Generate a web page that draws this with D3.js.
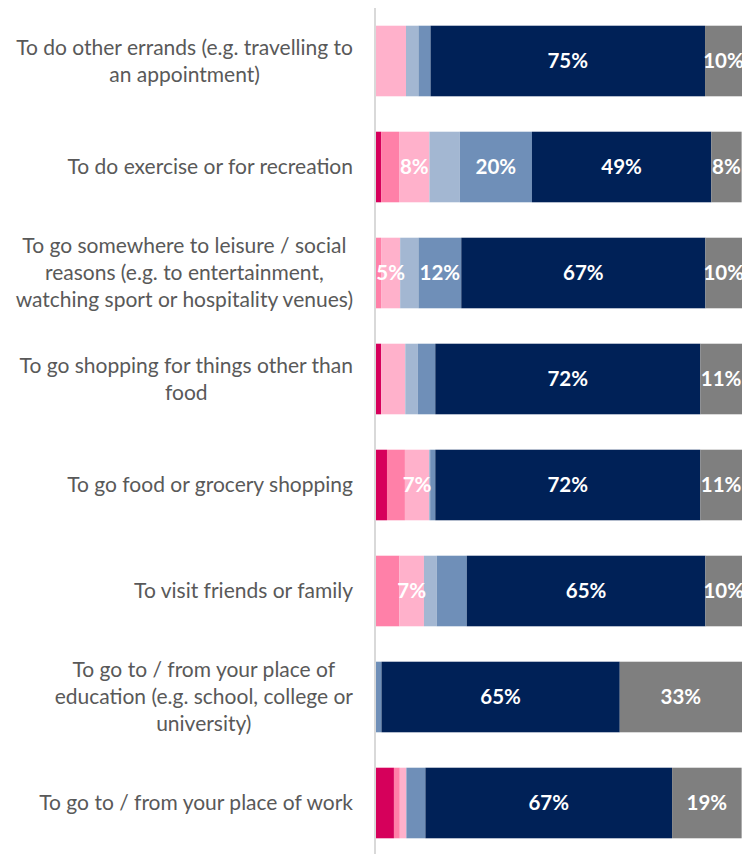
<!DOCTYPE html>
<html>
<head>
<meta charset="utf-8">
<script src="https://cdn.jsdelivr.net/npm/d3@7"></script>
<style>
  body { margin: 0; background: #fff; }
  svg { display: block; font-family: Lato, "Open Sans", sans-serif; }
</style>
</head>
<body>
<div id="chart"></div>
<script>
// categories, top to bottom (line breaks as in the original)
const categories = [
  ['To do other errands (e.g. travelling to', 'an appointment)'],
  ['To do exercise or for recreation'],
  ['To go somewhere to leisure / social', 'reasons (e.g. to entertainment,', 'watching sport or hospitality venues)'],
  ['To go shopping for things other than', 'food'],
  ['To go food or grocery shopping'],
  ['To visit friends or family'],
  ['To go to / from your place of', 'education (e.g. school, college or', 'university)'],
  ['To go to / from your place of work'],
];

// response series, left to right (no legend in the source)
const seriesKeys = ['r1', 'r2', 'r3', 'r4', 'r5', 'r6', 'r7'];
const seriesColors = ['#d6005b', '#ff80a8', '#ffb1cb', '#a3b7d2', '#6f8fb8', '#002157', '#7f7f7f'];

// percentages per category, in series order
const r1 = [0,    1.4, 0,    1.4,  3.0,  0,    0,    4.9];
const r2 = [0,    4.9, 1.4,  0,    4.9,  6.4,  0,    1.6];
const r3 = [8.2,  8.3, 5.2,  6.6,  6.6,  6.7,  0,    1.8];
const r4 = [3.4,  8.3, 5.0,  3.4,  0.3,  3.5,  0,    0];
const r5 = [3.3, 19.7, 11.7, 4.8,  1.4,  8.2,  1.5,  5.2];
const r6 = [75.0, 49.0, 66.7, 72.4, 72.4, 65.2, 65.1, 67.4];
const r7 = [10.1, 8.3, 10.0, 11.4, 11.4, 10.0, 33.4, 19.0];
const seriesValues = [r1, r2, r3, r4, r5, r6, r7];

// which segments carry a value label: [category index, series index]
const shownLabels = [
  [0, 5], [0, 6],
  [1, 2], [1, 4], [1, 5], [1, 6],
  [2, 2], [2, 4], [2, 5], [2, 6],
  [3, 5], [3, 6],
  [4, 2], [4, 5], [4, 6],
  [5, 2], [5, 5], [5, 6],
  [6, 5], [6, 6],
  [7, 5], [7, 6],
];

const width = 742;
const height = 854;

const rows = categories.map((c, i) => {
  const row = { idx: i };
  seriesKeys.forEach((k, j) => { row[k] = seriesValues[j][i]; });
  return row;
});

const stack = d3.stack().keys(seriesKeys);
const stacked = stack(rows);

const svg = d3.select('#chart')
  .append('svg')
  .attr('width', width)
  .attr('height', height);

const x = d3.scaleLinear().domain([0, 100]).range([376, 742]);

const y = d3.scaleBand()
  .domain(d3.range(categories.length))
  .range([8, 856])
  .paddingInner(0.334)
  .paddingOuter(0.167);

// bars
svg.append('g')
  .selectAll('g')
  .data(stacked)
  .join('g')
  .attr('fill', (d, j) => seriesColors[j])
  .selectAll('rect')
  .data((d) => d)
  .join('rect')
  .attr('x', (d) => x(d[0]))
  .attr('y', (d) => y(d.data.idx))
  .attr('width', (d) => x(d[1]) - x(d[0]))
  .attr('height', y.bandwidth());

// value labels
svg.append('g')
  .selectAll('text')
  .data(shownLabels)
  .join('text')
  .attr('x', ([i, j]) => x((stacked[j][i][0] + stacked[j][i][1]) / 2))
  .attr('y', ([i]) => y(i) + y.bandwidth() / 2)
  .attr('dy', '0.36em')
  .attr('text-anchor', 'middle')
  .attr('fill', '#fff')
  .attr('font-weight', 'bold')
  .attr('font-size', 20.5)
  .text(([i, j]) => Math.round(seriesValues[j][i]) + '%');

// category axis line
const axis = svg.append('g')
  .attr('transform', 'translate(375,0)')
  .call(d3.axisLeft(y).tickSize(0).tickFormat(''));
axis.select('.domain')
  .attr('d', `M0,${y.range()[0]}V${height}`)
  .attr('stroke', '#d9d9d9')
  .attr('stroke-width', 2);

// category labels, each block right aligned with lines centred
const lineHeight = 27;
const labels = svg.append('g')
  .attr('fill', '#595959')
  .attr('font-size', 21);

categories.forEach((lines, i) => {
  const g = labels.append('g');
  const texts = lines.map((line, k) => g.append('text')
    .attr('y', y(i) + y.bandwidth() / 2 + (k - (lines.length - 1) / 2) * lineHeight)
    .attr('dy', '0.35em')
    .attr('text-anchor', 'middle')
    .text(line));
  const blockW = d3.max(texts, (t) => t.node().getComputedTextLength());
  texts.forEach((t) => t.attr('x', 353 - blockW / 2));
});
</script>
</body>
</html>
